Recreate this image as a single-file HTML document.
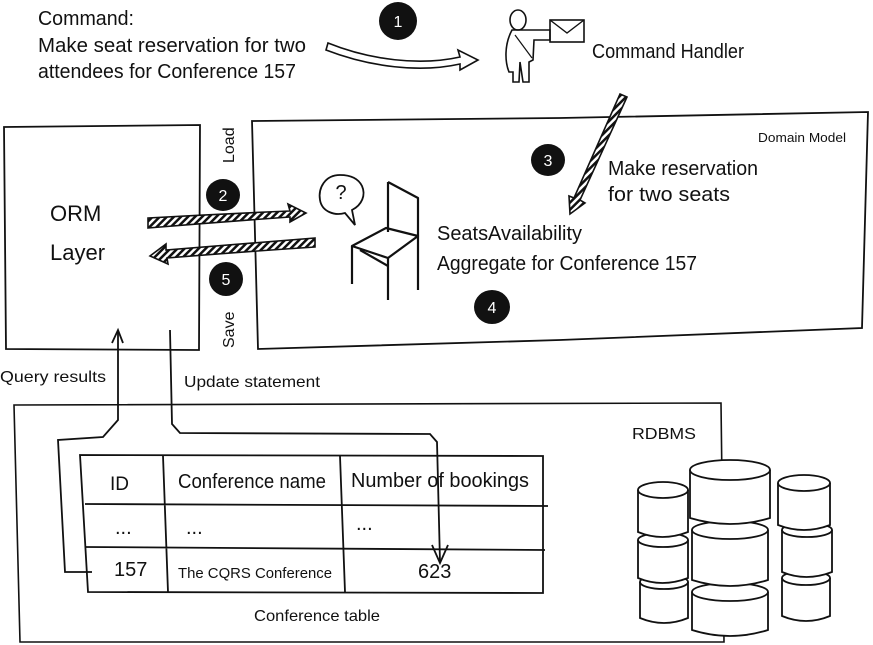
<!DOCTYPE html>
<html><head><meta charset="utf-8"><style>
html,body{margin:0;padding:0;background:#fff;}
svg{display:block;}
text{font-family:"Liberation Sans Narrow","Liberation Sans",sans-serif;fill:#111;}
</style></head><body>
<svg width="873" height="645" viewBox="0 0 873 645" xmlns="http://www.w3.org/2000/svg">
<defs>
<pattern id="hatch" width="5" height="5" patternUnits="userSpaceOnUse" patternTransform="rotate(45)">
<rect width="5" height="5" fill="#fff"/><rect width="2.5" height="5" fill="#111"/></pattern>
</defs>
<g fill="none" stroke="#111" stroke-width="2">
<path d="M4,127 L200,125 L199,350 L6,349 Z" stroke-width="1.8"/>
<path d="M252,121 L560,118 L868,112 L862,328 L560,340 L258,349 Z" stroke-width="1.8"/>
<path d="M14,405 L721,403 L724,642 L20,642 Z" stroke-width="1.6"/>
<path d="M80,455 L543,456 L543,593 L88,592 Z" stroke-width="1.8"/>
<path d="M163,456 L168,592 M340,456 L345,592 M85,504 L548,506 M85,547 L545,550" stroke-width="1.8"/>
<path d="M92,572 L65,572 L58,440 L103,437 L118,420 L118,332" stroke-width="1.8"/>
<path d="M112,343 L118,330 L123,343" stroke-width="1.8"/>
<path d="M170,330 L172,424 L180,433 L430,434 L437,442 L440,562" stroke-width="1.8"/>
<path d="M432,545 L440,563 L448,545" stroke-width="1.8"/>
<path d="M328,43 C370,60 420,66 460,57 L458,50 L478,60 L460,70 L460,64 C420,73 370,67 326,50 Z" stroke-width="1.6"/>
<!-- person -->
<ellipse cx="518" cy="20" rx="8" ry="10" stroke-width="1.6"/>
<path d="M512,30 C504,45 505,62 509,72 L513,72 L513,82 L519,82 L520,62 L523,82 L529,82 L529,62 L533,60 L534,40 L550,40 L550,30 L533,30 Z" stroke-width="1.6"/>
<path d="M515,35 L532,58" stroke-width="1.2"/>
<rect x="550" y="20" width="34" height="22" stroke-width="1.6"/>
<path d="M550,20 L567,33 L584,20" stroke-width="1.4"/>
<!-- chair -->
<g stroke-width="2.2" stroke-linejoin="round">
<path d="M388,182 L388,232"/>
<path d="M388,182 L418,198 L418,290"/>
<path d="M352,246 L386,228 L418,236 L388,258 Z"/>
<path d="M352,246 L352,284"/>
<path d="M388,258 L388,300"/>
<path d="M360,250 L388,266"/>
</g>
<path d="M340,175 C325,175 318,188 320,200 C322,212 335,216 345,213 L355,225 L352,210 C362,205 366,195 362,186 C358,178 350,175 340,175 Z" stroke-width="1.8"/>
<!-- cylinders -->
<g stroke-width="1.8" fill="#fff">
<path d="M640,582 L640,618 Q664,628 688,618 L688,582"/><ellipse cx="664" cy="582" rx="24" ry="7"/>
<path d="M782,578 L782,616 Q806,626 830,616 L830,578"/><ellipse cx="806" cy="578" rx="24" ry="7"/>
<path d="M638,540 L638,578 Q662,588 688,578 L688,540"/><ellipse cx="663" cy="540" rx="25" ry="7"/>
<path d="M782,530 L782,572 Q806,582 832,572 L832,530"/><ellipse cx="807" cy="530" rx="25" ry="7"/>
<path d="M638,490 L638,532 Q662,542 688,532 L688,490"/><ellipse cx="663" cy="490" rx="25" ry="8"/>
<path d="M778,483 L778,525 Q804,535 830,525 L830,483"/><ellipse cx="804" cy="483" rx="26" ry="8"/>
<path d="M692,592 L692,630 Q730,642 768,630 L768,592"/><ellipse cx="730" cy="592" rx="38" ry="9"/>
<path d="M692,530 L692,580 Q730,592 768,580 L768,530"/><ellipse cx="730" cy="530" rx="38" ry="9"/>
<path d="M690,470 L690,518 Q730,530 770,518 L770,470"/><ellipse cx="730" cy="470" rx="40" ry="10"/>
</g>
</g>
<path d="M148,218 Q220,214 290,211 L288,204 L306,213 L290,222 L290,217 Q220,222 148,228 Z" fill="url(#hatch)" stroke="#111" stroke-width="1.6"/>
<path d="M315,238 Q240,244 166,250 L166,244 L150,256 L168,264 L167,258 Q240,252 315,247 Z" fill="url(#hatch)" stroke="#111" stroke-width="1.6"/>
<path d="M620,94 L627,97 L580,200 L585,203 L570,214 L569,196 L574,198 Z" fill="url(#hatch)" stroke="#111" stroke-width="1.6"/>
<g fill="#111">
<ellipse cx="398" cy="21" rx="19" ry="19"/><ellipse cx="223" cy="195" rx="17" ry="16"/>
<ellipse cx="548" cy="160" rx="17" ry="16"/><ellipse cx="492" cy="307" rx="18" ry="17"/>
<ellipse cx="226" cy="279" rx="17" ry="17"/>
</g>
<g font-size="16" text-anchor="middle">
<text x="398" y="27" style="fill:#fff">1</text><text x="223" y="201" style="fill:#fff">2</text>
<text x="548" y="166" style="fill:#fff">3</text><text x="492" y="313" style="fill:#fff">4</text>
<text x="226" y="285" style="fill:#fff">5</text>
</g>
<text x="341" y="199" font-size="20" text-anchor="middle">?</text>
<g font-size="20">
<text x="38" y="25" textLength="96" lengthAdjust="spacingAndGlyphs">Command:</text>
<text x="38" y="52" textLength="268" lengthAdjust="spacingAndGlyphs">Make seat reservation for two</text>
<text x="38" y="78" textLength="258" lengthAdjust="spacingAndGlyphs">attendees for Conference 157</text>
<text x="592" y="58" textLength="152" lengthAdjust="spacingAndGlyphs">Command Handler</text>
<text x="608" y="175" textLength="150" lengthAdjust="spacingAndGlyphs">Make reservation</text>
<text x="608" y="201" textLength="122" lengthAdjust="spacingAndGlyphs">for two seats</text>
<text x="437" y="240" textLength="145" lengthAdjust="spacingAndGlyphs">SeatsAvailability</text>
<text x="437" y="270" textLength="260" lengthAdjust="spacingAndGlyphs">Aggregate for Conference 157</text>
<text x="50" y="221" font-size="22">ORM</text>
<text x="50" y="260" font-size="22">Layer</text>
<text x="110" y="490" font-size="19">ID</text>
<text x="178" y="488" textLength="148" lengthAdjust="spacingAndGlyphs">Conference name</text>
<text x="351" y="487" textLength="178" lengthAdjust="spacingAndGlyphs">Number of bookings</text>
<text x="115" y="534">...</text><text x="186" y="534">...</text><text x="356" y="530">...</text>
<text x="114" y="576">157</text>
<text x="418" y="578">623</text>
</g>
<g font-size="16">
<text x="0" y="382" textLength="106" lengthAdjust="spacingAndGlyphs">Query results</text>
<text x="184" y="387" textLength="136" lengthAdjust="spacingAndGlyphs">Update statement</text>
<text x="632" y="439" textLength="64" lengthAdjust="spacingAndGlyphs">RDBMS</text>
<text x="254" y="621" textLength="126" lengthAdjust="spacingAndGlyphs">Conference table</text>
<text x="178" y="578" font-size="15" textLength="154" lengthAdjust="spacingAndGlyphs">The CQRS Conference</text>
<text transform="translate(234,163) rotate(-90)" font-size="16">Load</text>
<text transform="translate(234,348) rotate(-90)" font-size="16">Save</text>
</g>
<text x="758" y="142" font-size="13" textLength="88" lengthAdjust="spacingAndGlyphs">Domain Model</text>
</svg>
</body></html>
